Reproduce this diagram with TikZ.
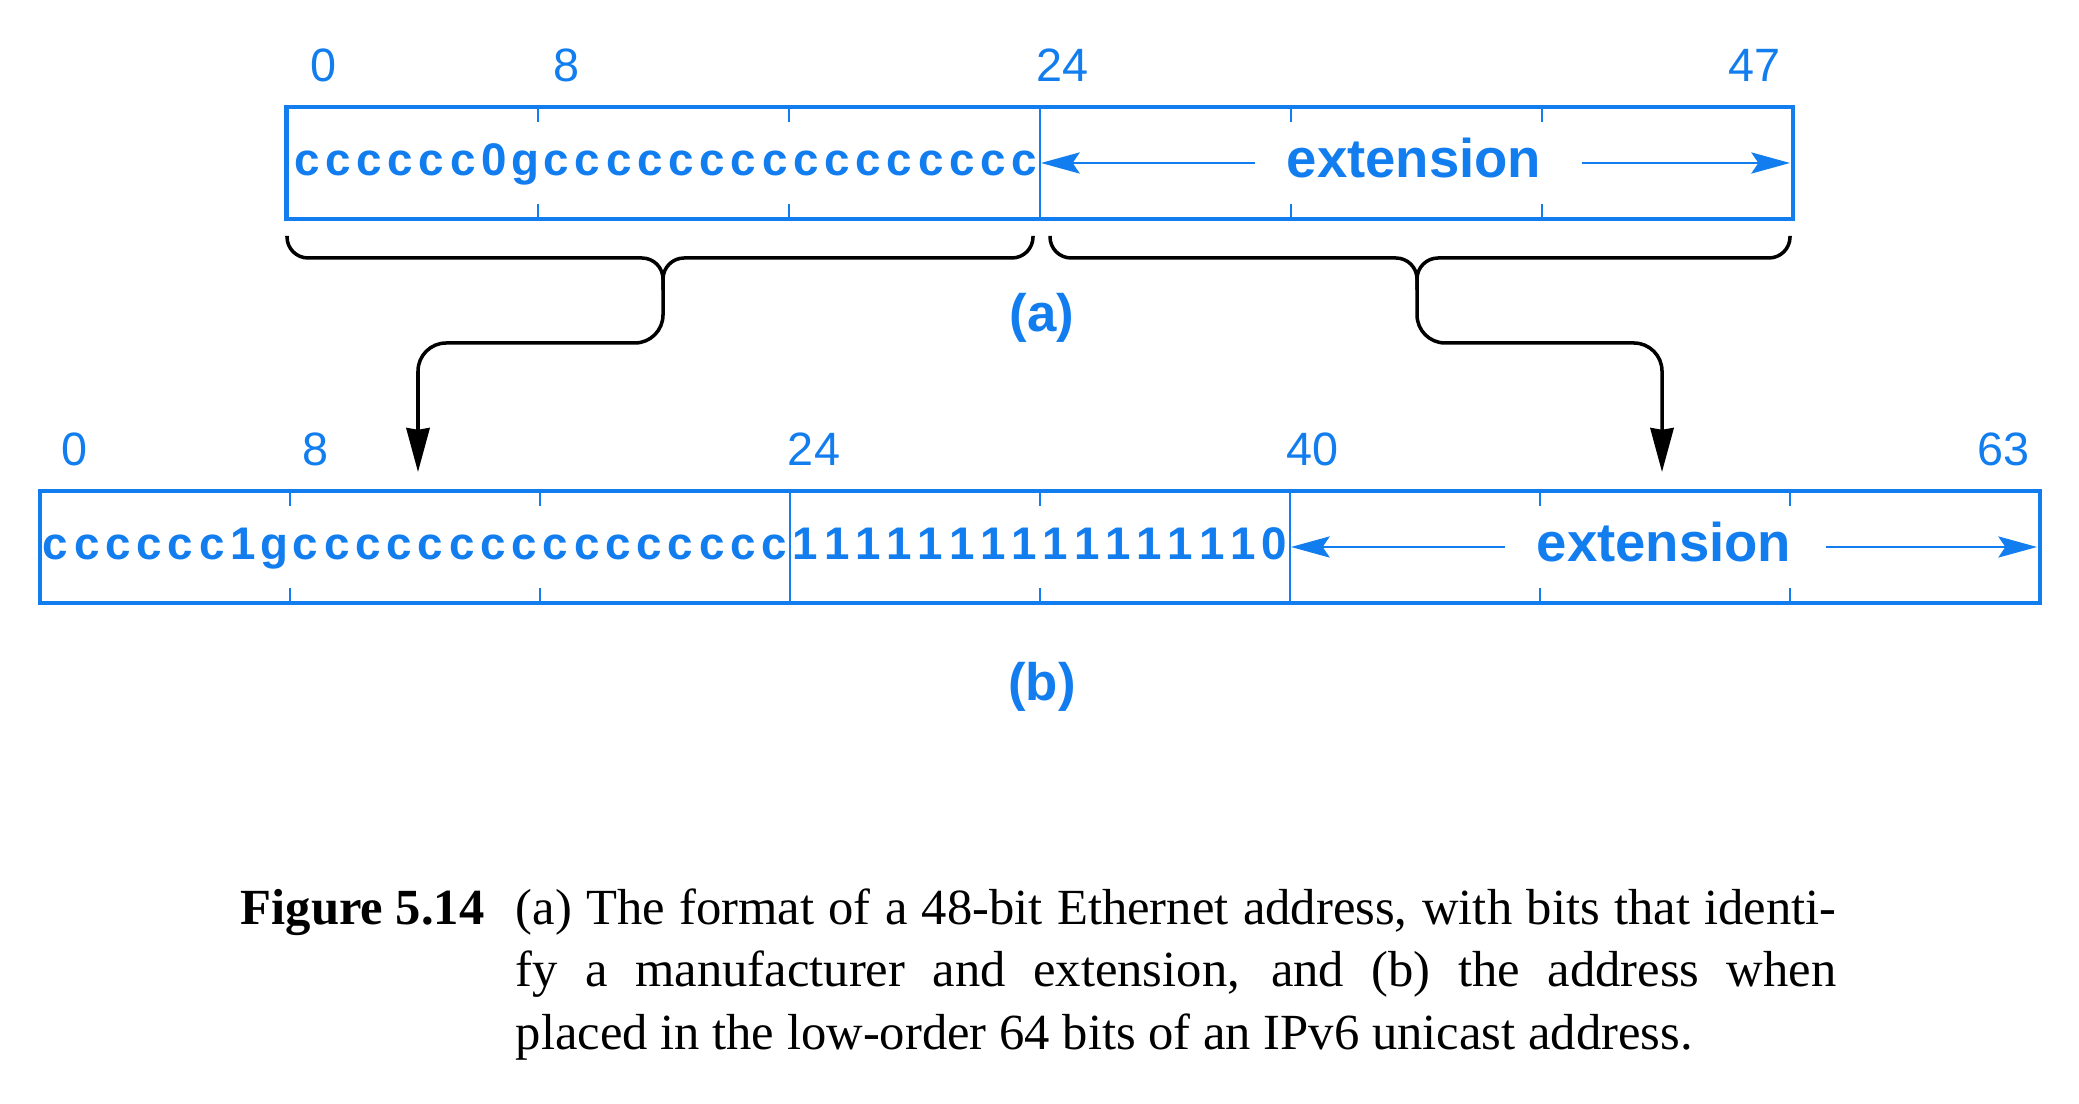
\documentclass[tikz,border=0pt]{standalone}
\usepackage{fontspec}
\setmainfont{Liberation Serif}
\newfontfamily\hv{Liberation Sans}
\usetikzlibrary{arrows.meta,calc}
\definecolor{addrblue}{RGB}{18,125,238}
\begin{document}
\begin{tikzpicture}[x=0.01cm,y=-0.01cm,
  frame/.style={draw=addrblue,line width=1.4pt},
  divline/.style={draw=addrblue,line width=0.7pt},
  bitnum/.style={text=addrblue,font=\hv\fontsize{13.3}{13.3}\selectfont,inner sep=0pt,anchor=base},
  bitchar/.style={text=addrblue,font=\hv\bfseries\fontsize{13}{13}\selectfont,inner sep=0pt,anchor=base},
  extlabel/.style={text=addrblue,font=\hv\bfseries\fontsize{15.5}{15.5}\selectfont,inner sep=0pt,anchor=base},
  partlabel/.style={text=addrblue,font=\hv\bfseries\fontsize{15}{15}\selectfont,inner sep=0pt,anchor=base},
  extarrow/.style={draw=addrblue,line width=0.7pt,-{Stealth[length=11pt,width=6pt,inset=2pt]}},
  brace/.style={draw=black,line width=1pt,line join=round},
  bracearrow/.style={brace,-{Stealth[length=12.5pt,width=6.6pt,inset=0.5pt]}}]

\useasboundingbox[fill=white] (0,0) rectangle (2079,1104);

% ---------- box (a): 48 bits, segments of 8 bits ----------
\coordinate (aNW) at (286.7,107);
\coordinate (aSE) at (1793,219);
\draw[frame] (aNW) rectangle (aSE);
\foreach \k in {1,2,4,5}{
  \draw[divline] (286.7+251.05*\k,107) -- ++(0,15);
  \draw[divline] (286.7+251.05*\k,219) -- ++(0,-15);
}
\coordinate (aD24t) at (1039.85,107);
\coordinate (aD24b) at (1039.85,219);
\draw[divline] (aD24t) -- (aD24b);

\node[bitnum] (na0)  at (324,82)  {0};
\node[bitnum] (na8)  at (566,82)  {8};
\node[bitnum] (na24) at (1062,82) {24};
\node[bitnum] (na47) at (1754,82) {47};

\foreach \ch [count=\i from 0] in {c,c,c,c,c,c,0,g,c,c,c,c,c,c,c,c,c,c,c,c,c,c,c,c}{
  \node[bitchar] (ca\i) at (291.2+31.2*\i+15.6,176) {\ch};
}
\node[extlabel] (extA) at (1414,178) {extension};
\coordinate (aArrL) at (1041,163);
\coordinate (aArrR) at (1790,163);
\draw[extarrow] ($(extA.west |- aArrL)+(-31,0)$) -- (aArrL);
\draw[extarrow] ($(extA.east |- aArrR)+(40,0)$) -- (aArrR);

% ---------- braces and arrows ----------
\coordinate (tipL) at (418,472);
\coordinate (tipR) at (1662,472);
\draw[bracearrow] (287,236) [rounded corners=6pt] -- (287,258) -- (663,258)
   [rounded corners=8pt] -- (663,343) -- (418,343) -- (tipL);
\draw[brace] (1033,236) [rounded corners=6pt] -- (1033,258) -- (663,258) -- (663,290);
\draw[bracearrow] (1790,236) [rounded corners=6pt] -- (1790,258) -- (1417,258)
   [rounded corners=8pt] -- (1417,343) -- (1662,343) -- (tipR);
\draw[brace] (1050,236) [rounded corners=6pt] -- (1050,258) -- (1417,258) -- (1417,290);

\node[partlabel] (labA) at (1042,332) {(a)};

% ---------- box (b): 64 bits ----------
\coordinate (bNW) at (40,491);
\coordinate (bSE) at (2040,603);
\draw[frame] (bNW) rectangle (bSE);
\foreach \k in {1,2,4,6,7}{
  \draw[divline] (40+250*\k,491) -- ++(0,15);
  \draw[divline] (40+250*\k,603) -- ++(0,-15);
}
\coordinate (bD24t) at (790,491);
\coordinate (bD24b) at (790,603);
\coordinate (bD40t) at (1290,491);
\coordinate (bD40b) at (1290,603);
\draw[divline] (bD24t) -- (bD24b);
\draw[divline] (bD40t) -- (bD40b);

\node[bitnum] (nb0)  at (75,466)   {0};
\node[bitnum] (nb8)  at (315.5,466) {8};
\node[bitnum] (nb24) at (814,466)  {24};
\node[bitnum] (nb40) at (1312,466) {40};
\node[bitnum] (nb63) at (2003,466) {63};

\foreach \ch [count=\i from 0] in {c,c,c,c,c,c,1,g,c,c,c,c,c,c,c,c,c,c,c,c,c,c,c,c,1,1,1,1,1,1,1,1,1,1,1,1,1,1,1,0}{
  \node[bitchar] (cb\i) at (40+31.25*\i+15.62,560) {\ch};
}
\node[extlabel] (extB) at (1664,562) {extension};
\coordinate (bArrL) at (1291,547);
\coordinate (bArrR) at (2037,547);
\draw[extarrow] ($(extB.west |- bArrL)+(-31,0)$) -- (bArrL);
\draw[extarrow] ($(extB.east |- bArrR)+(34,0)$) -- (bArrR);

\node[partlabel] (labB) at (1042,701) {(b)};

% ---------- caption ----------
\node[anchor=base west,inner sep=0pt,font=\bfseries\fontsize{14.4}{17.8}\selectfont] (figno) at (240,924) {Figure 5.14};
\node[anchor=base west,inner sep=0pt,text width=13.2cm,align=justify,font=\fontsize{14.4}{17.8}\selectfont] (captext) at (515,924)
  {(a) The format of a 48-bit Ethernet address, with bits that identi-\linebreak
   fy a manufacturer and extension, and (b) the address when\linebreak
   placed in the low-order 64 bits of an IPv6 unicast address.};
\end{tikzpicture}
\end{document}
